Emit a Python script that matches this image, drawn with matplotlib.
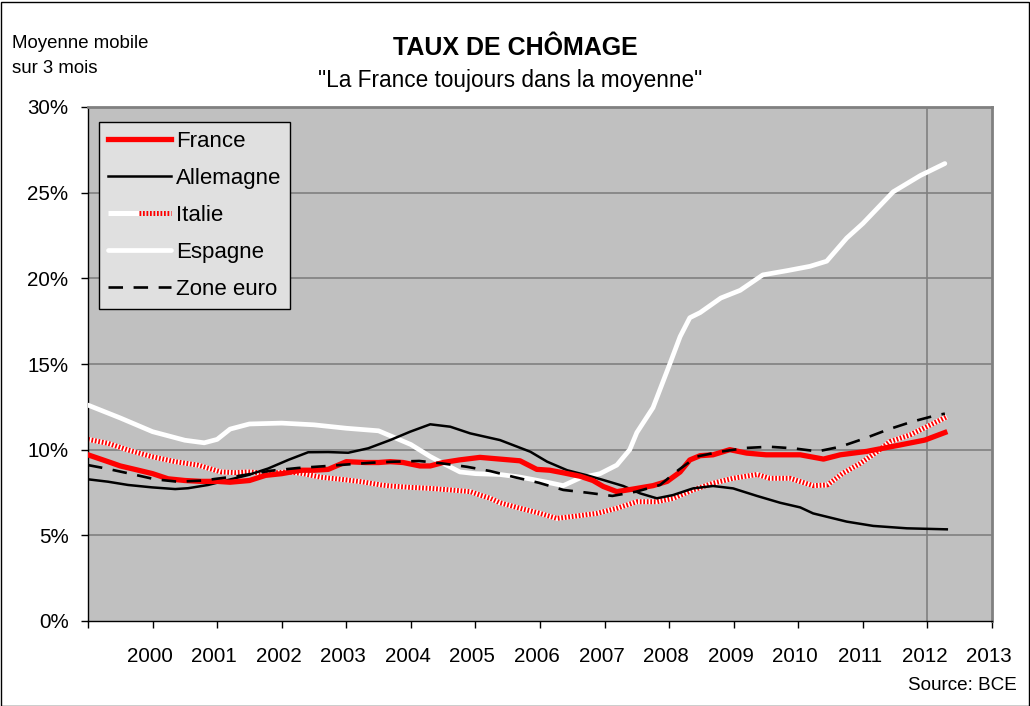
import matplotlib
matplotlib.use("Agg")
import matplotlib.pyplot as plt
import matplotlib.transforms as mtransforms
from matplotlib.legend_handler import HandlerTuple
from matplotlib.patches import Rectangle

plt.rcParams['font.family'] = ['Liberation Sans', 'DejaVu Sans']

# --- data (decimal year, % unemployment, 3-month moving average) ---
france_x = [1999.0, 1999.31, 1999.5, 1999.78, 2000.0, 2000.24, 2000.5, 2000.75, 2001.0, 2001.2,
            2001.5, 2001.75, 2002.0, 2002.3, 2002.5, 2002.72, 2003.0, 2003.3, 2003.5, 2003.68,
            2003.88, 2004.14, 2004.3, 2004.5, 2004.75, 2005.07, 2005.38, 2005.69, 2005.95, 2006.15,
            2006.36, 2006.62, 2006.82, 2006.98, 2007.19, 2007.44, 2007.75, 2007.97, 2008.17, 2008.32,
            2008.48, 2008.68, 2008.94, 2009.2, 2009.5, 2010.03, 2010.39, 2010.65, 2011.06, 2011.57,
            2011.96, 2012.27]
france_y = [9.7, 9.3, 9.05, 8.8, 8.6, 8.3, 8.2, 8.15, 8.15, 8.1,
            8.2, 8.5, 8.6, 8.8, 8.8, 8.85, 9.3, 9.25, 9.25, 9.3,
            9.25, 9.05, 9.05, 9.25, 9.4, 9.55, 9.45, 9.35, 8.85, 8.8,
            8.65, 8.45, 8.2, 7.85, 7.55, 7.7, 7.9, 8.15, 8.7, 9.4,
            9.65, 9.7, 10.0, 9.8, 9.7, 9.7, 9.45, 9.7, 9.9, 10.27,
            10.56, 11.0]

allemagne_x = [1999.0, 1999.31, 1999.62, 1999.99, 2000.35, 2000.55, 2000.86, 2001.17, 2001.48, 2001.79,
               2002.1, 2002.41, 2002.72, 2003.03, 2003.34, 2003.68, 2003.99, 2004.3, 2004.61, 2004.92,
               2005.38, 2005.85, 2006.11, 2006.42, 2006.73, 2006.98, 2007.29, 2007.55, 2007.81, 2008.06,
               2008.37, 2008.68, 2008.99, 2009.36, 2009.72, 2010.03, 2010.23, 2010.75, 2011.16, 2011.68,
               2012.3]
allemagne_y = [8.27, 8.13, 7.94, 7.8, 7.7, 7.75, 7.94, 8.23, 8.52, 8.9,
               9.4, 9.85, 9.86, 9.82, 10.08, 10.56, 11.05, 11.48, 11.34, 10.95,
               10.56, 9.88, 9.3, 8.8, 8.5, 8.23, 7.88, 7.45, 7.16, 7.35,
               7.74, 7.88, 7.74, 7.3, 6.9, 6.63, 6.28, 5.8, 5.55, 5.41,
               5.35]

italie_x = [1999.0, 1999.31, 1999.62, 1999.99, 2000.35, 2000.7, 2001.06, 2001.28, 2001.48, 2001.79,
            2002.1, 2002.3, 2002.61, 2002.92, 2003.23, 2003.54, 2003.68, 2003.99, 2004.3, 2004.61,
            2004.92, 2005.07, 2005.23, 2005.38, 2005.69, 2006.0, 2006.26, 2006.57, 2006.88, 2007.19,
            2007.5, 2007.81, 2008.06, 2008.37, 2008.68, 2008.99, 2009.36, 2009.56, 2009.87, 2010.23,
            2010.45, 2010.69, 2010.96, 2011.22, 2011.42, 2011.73, 2011.99, 2012.3]
italie_y = [10.6, 10.37, 9.98, 9.59, 9.3, 9.1, 8.7, 8.66, 8.7, 8.62,
            8.7, 8.62, 8.39, 8.27, 8.13, 7.94, 7.88, 7.8, 7.74, 7.65,
            7.55, 7.35, 7.16, 6.9, 6.58, 6.28, 5.99, 6.13, 6.28, 6.58,
            6.96, 6.96, 7.16, 7.65, 8.04, 8.33, 8.55, 8.33, 8.33, 7.9,
            7.94, 8.62, 9.2, 9.88, 10.47, 10.86, 11.34, 11.92]

espagne_x = [1999.0, 1999.5, 2000.0, 2000.5, 2000.8, 2001.0, 2001.2, 2001.5, 2002.0, 2002.5,
             2003.0, 2003.5, 2004.0, 2004.3, 2004.5, 2004.76, 2005.0, 2005.38, 2005.69, 2006.11,
             2006.36, 2006.62, 2006.93, 2007.19, 2007.39, 2007.5, 2007.75, 2008.01, 2008.17, 2008.32,
             2008.48, 2008.8, 2009.1, 2009.45, 2009.83, 2010.18, 2010.44, 2010.75, 2011.0, 2011.47,
             2011.89, 2012.27]
espagne_y = [12.6, 11.85, 11.05, 10.55, 10.4, 10.6, 11.2, 11.5, 11.55, 11.45,
             11.25, 11.1, 10.3, 9.6, 9.2, 8.7, 8.6, 8.55, 8.4, 8.1,
             7.9, 8.35, 8.6, 9.1, 10.0, 11.0, 12.45, 15.0, 16.6, 17.7,
             18.0, 18.85, 19.3, 20.2, 20.45, 20.7, 21.0, 22.35, 23.2, 25.05,
             26.0, 26.7]

zone_x = [1999.0, 1999.28, 1999.65, 2000.04, 2000.39, 2000.78, 2001.32, 2001.83, 2002.25, 2002.64,
          2003.03, 2003.4, 2003.75, 2004.13, 2004.48, 2004.87, 2005.23, 2005.61, 2005.98, 2006.36,
          2006.73, 2007.12, 2007.49, 2007.86, 2008.14, 2008.43, 2008.79, 2009.19, 2009.55, 2009.92,
          2010.3, 2010.65, 2011.03, 2011.4, 2011.76, 2012.15, 2012.27]
zone_y = [9.1, 8.9, 8.6, 8.27, 8.13, 8.2, 8.46, 8.77, 8.93, 9.03,
          9.14, 9.24, 9.3, 9.34, 9.2, 9.0, 8.75, 8.39, 8.07, 7.65,
          7.49, 7.3, 7.55, 7.94, 8.8, 9.6, 9.88, 10.1, 10.17, 10.08,
          9.9, 10.17, 10.66, 11.19, 11.63, 12.02, 12.1]

years = list(range(1999, 2014))
year_labels = ['' if y == 1999 else str(y) for y in years]
y_ticks = [0, 5, 10, 15, 20, 25, 30]

W, H = 1030, 706
fig = plt.figure(figsize=(W / 100, H / 100), dpi=100)
fig.patch.set_facecolor('white')
fig.add_artist(Rectangle((0.5 / W, 0.5 / H), 1 - 2 / W, 1 - 2 / H, transform=fig.transFigure,
                         fill=False, edgecolor='black', linewidth=1))

ax = fig.add_axes([88 / W, 1 - 621 / H, (992 - 88) / W, (621 - 107) / H])
ax.set_facecolor('#c0c0c0')
ax.set_xlim(1999, 2013)
ax.set_ylim(0, 30)

for v in y_ticks[1:]:
    ax.axhline(v, color='#808080', linewidth=1.2, zorder=1)
ax.axvline(2012, color='#808080', linewidth=1.2, zorder=1)

# Italie: red/white checker look -> white line with fine red dashes on top
it_w, = ax.plot(italie_x, italie_y, color='white', linewidth=3.6, zorder=2, solid_capstyle='butt')
it_r, = ax.plot(italie_x, italie_y, color='#ff0000', linewidth=3.6, zorder=2,
                linestyle=(0, (0.35, 0.35)), dash_capstyle='butt')
es, = ax.plot(espagne_x, espagne_y, color='white', linewidth=3.4, zorder=3, solid_capstyle='round')
al, = ax.plot(allemagne_x, allemagne_y, color='black', linewidth=1.8, zorder=4)
fr, = ax.plot(france_x, france_y, color='#ff0000', linewidth=3.8, zorder=5)
ze, = ax.plot(zone_x, zone_y, color='black', linewidth=1.9, zorder=6, linestyle=(0, (5.5, 4)))

ax.set_xticks(years)
ax.set_xticklabels(year_labels)
ax.set_yticks(y_ticks)
ax.set_yticklabels([f'{v}%' for v in y_ticks])
ax.tick_params(axis='x', direction='out', length=5, width=1, labelsize=14.8, pad=14)
ax.tick_params(axis='y', direction='out', length=5, width=1, labelsize=14.8, pad=9)
# year labels sit a little left of their tick in the original
shift = mtransforms.ScaledTranslation(-3 / 100, 0, fig.dpi_scale_trans)
for lab in ax.get_xticklabels():
    lab.set_transform(lab.get_transform() + shift)

for side in ('top', 'right'):
    ax.spines[side].set_color('#808080')
    ax.spines[side].set_linewidth(2)
for side in ('left', 'bottom'):
    ax.spines[side].set_color('black')
    ax.spines[side].set_linewidth(1)

leg = ax.legend([fr, al, (it_w, it_r), es, ze],
                ['France', 'Allemagne', 'Italie', 'Espagne', 'Zone euro'],
                handler_map={tuple: HandlerTuple(ndivide=None, pad=0)},
                loc='upper left', bbox_to_anchor=(99 / W, 1 - 122 / H),
                bbox_transform=fig.transFigure, borderaxespad=0,
                fontsize=16, handlelength=2.84, handletextpad=0.22,
                labelspacing=0.72, borderpad=0.4, fancybox=False,
                frameon=True, facecolor='#e0e0e0', edgecolor='black', framealpha=1)
leg.get_frame().set_linewidth(1)

fig.text(515 / W, 1 - 55 / H, 'TAUX DE CHÔMAGE', ha='center', va='baseline',
         fontsize=18, fontweight='bold')
fig.text(510 / W, 1 - 87 / H, '"La France toujours dans la moyenne"', ha='center',
         va='baseline', fontsize=16.3)
fig.text(12 / W, 1 - 48 / H, 'Moyenne mobile', ha='left', va='baseline', fontsize=13.4)
fig.text(12 / W, 1 - 73 / H, 'sur 3 mois', ha='left', va='baseline', fontsize=13.4)
fig.text(1017 / W, 1 - 690 / H, 'Source: BCE', ha='right', va='baseline', fontsize=13.6)

fig.savefig('out.png', dpi=100)
